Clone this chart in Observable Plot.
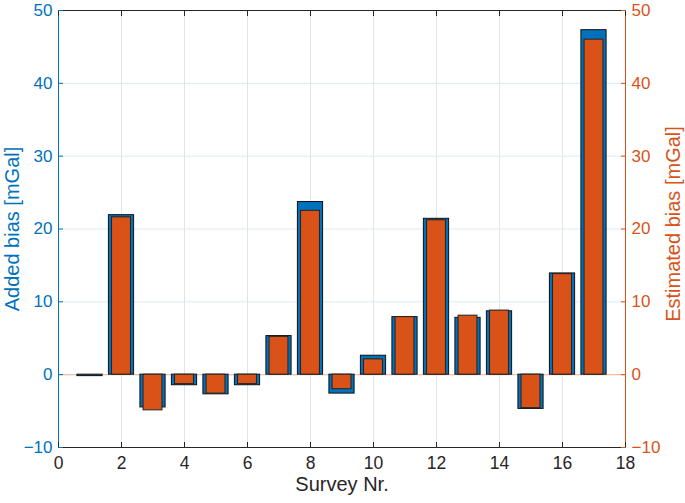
<!DOCTYPE html>
<html><head><meta charset="utf-8">
<script src="https://cdn.jsdelivr.net/npm/d3@7"></script>
<script src="https://cdn.jsdelivr.net/npm/@observablehq/plot@0.6"></script>
<style>body{margin:0;background:#fff}svg{display:block}</style>
</head><body><div id="chart"></div>
<script>
const surveys = [1, 2, 3, 4, 5, 6, 7, 8, 9, 10, 11, 12, 13, 14, 15, 16, 17];
const addedBias = [-0.2, 21.9, -4.5, -1.45, -2.7, -1.45, 5.3, 23.7, -2.6, 2.6, 7.9, 21.4, 7.8, 8.7, -4.7, 13.9, 47.3];
const estimatedBias = [0.0, 21.6, -4.9, -1.3, -2.6, -1.3, 5.2, 22.5, -2.0, 2.1, 7.9, 21.2, 8.1, 8.8, -4.6, 13.8, 46.0];
const xTicks = [0, 2, 4, 6, 8, 10, 12, 14, 16, 18];
const yTicks = [-10, 0, 10, 20, 30, 40, 50];

const BLUE = "#0072BD", ORANGE = "#D95319", DARK = "#262626";
const addedWidth = 0.8, estWidth = 0.6;
const idx = surveys.map((_, i) => i);

const chart = Plot.plot({
  width: 685, height: 503,
  marginLeft: 58, marginRight: 60, marginTop: 10, marginBottom: 56,
  style: {fontFamily: "'Liberation Sans', Arial, Helvetica, sans-serif", fontSize: "17px", background: "#fff"},
  x: {domain: [0, 18]},
  y: {domain: [-10, 50]},
  marks: [
    Plot.gridX(xTicks.slice(1, -1), {stroke: "#e3e3e3", strokeOpacity: 1}),
    Plot.gridY(yTicks.slice(1, -1), {stroke: "#dde9f5", strokeOpacity: 1}),
    Plot.ruleY([0], {stroke: "#f4bfa6", strokeWidth: 1.2}),
    Plot.rectY(idx, {x1: i => surveys[i] - addedWidth / 2, x2: i => surveys[i] + addedWidth / 2, y1: 0, y2: i => addedBias[i], fill: BLUE, stroke: "#111", strokeWidth: 1}),
    Plot.rectY(idx, {x1: i => surveys[i] - estWidth / 2, x2: i => surveys[i] + estWidth / 2, y1: 0, y2: i => estimatedBias[i], fill: ORANGE, stroke: "#222", strokeWidth: 1}),
    Plot.ruleY([-10, 50], {stroke: DARK, strokeWidth: 1}),
    Plot.ruleX([0], {stroke: BLUE, strokeWidth: 1}),
    Plot.ruleX([18], {stroke: ORANGE, strokeWidth: 1}),
    Plot.axisX({anchor: "bottom", ticks: xTicks, tickSize: -5, tickPadding: 14, color: DARK, fontSize: 17.5, label: null}),
    Plot.axisX({anchor: "top", ticks: xTicks, tickSize: -5, tickFormat: () => "", color: DARK, label: null}),
    Plot.axisY({anchor: "left", ticks: yTicks, tickSize: -5, tickPadding: 11, color: BLUE, fontSize: 17, label: null}),
    Plot.axisY({anchor: "right", ticks: yTicks, tickSize: -5, tickPadding: 11, color: ORANGE, fontSize: 17, label: null}),
    Plot.text(["Added bias [mGal]"], {text: d => d, frameAnchor: "left", dx: -46, rotate: -90, fill: BLUE, fontSize: 20, textAnchor: "middle"}),
    Plot.text(["Estimated bias [mGal]"], {text: d => d, frameAnchor: "right", dx: 48, dy: -5, rotate: -90, fill: ORANGE, fontSize: 20, textAnchor: "middle"}),
    Plot.text(["Survey Nr."], {text: d => d, frameAnchor: "bottom", dy: 43, fill: DARK, fontSize: 20, textAnchor: "middle"})
  ]
});
document.getElementById("chart").appendChild(chart);
</script>
</body></html>
